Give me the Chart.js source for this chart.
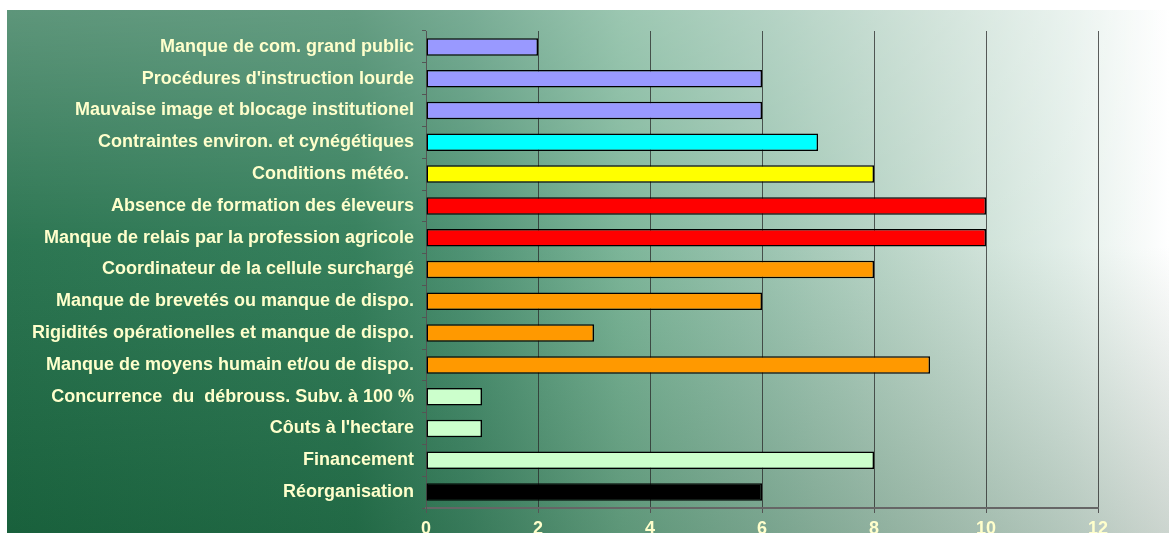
<!DOCTYPE html>
<html>
<head>
<meta charset="utf-8">
<script src="https://cdn.jsdelivr.net/npm/chart.js@4"></script>
<style>
  html, body { margin: 0; padding: 0; background: #fff; }
  #wrap {
    position: absolute; left: 7px; top: 10px; width: 1162px; height: 523px;
    background:
      linear-gradient(to bottom, rgba(255,255,255,0.28) 0%, rgba(255,255,255,0.06) 45%, rgba(0,45,15,0.2) 100%),
      linear-gradient(to right, #1f6d47 0%, #2a7853 30%, #468d6d 40%, #75b193 53%, #98c2ae 66%, #bcd6c9 78%, #e0ede7 91%, #ffffff 100%);
  }
  canvas { display: block; }
</style>
</head>
<body>
<div id="wrap"><canvas id="chart" width="1162" height="523"></canvas></div>
<script>
const categories = [
  "Manque de com. grand public",
  "Procédures d'instruction lourde",
  "Mauvaise image et blocage institutionel",
  "Contraintes environ. et cynégétiques",
  "Conditions météo. ",
  "Absence de formation des éleveurs",
  "Manque de relais par la profession agricole",
  "Coordinateur de la cellule surchargé",
  "Manque de brevetés ou manque de dispo.",
  "Rigidités opérationelles et manque de dispo.",
  "Manque de moyens humain et/ou de dispo.",
  "Concurrence  du  débrouss. Subv. à 100 %",
  "Côuts à l'hectare",
  "Financement",
  "Réorganisation"
];
const values = [2, 6, 6, 7, 8, 10, 10, 8, 6, 3, 9, 1, 1, 8, 6];
const barColors = [
  "#9999ff", "#9999ff", "#9999ff", "#00ffff", "#ffff00", "#ff0000", "#ff0000",
  "#ff9900", "#ff9900", "#ff9900", "#ff9900", "#ccffcc", "#ccffcc", "#ccffcc", "#000000"
];
const xTicks = [0, 2, 4, 6, 8, 10, 12];

const textColor = "#ffffcc";

new Chart(document.getElementById("chart"), {
  type: "bar",
  data: {
    labels: categories,
    datasets: [{
      data: values,
      backgroundColor: barColors,
      borderColor: "#000",
      borderWidth: 1.5,
      borderSkipped: false,
      barPercentage: 0.55,
      categoryPercentage: 1
    }]
  },
  options: {
    indexAxis: "y",
    responsive: false,
    animation: false,
    layout: { padding: { top: 21, right: 71, left: 0, bottom: 0 } },
    plugins: { legend: { display: false }, tooltip: { enabled: false } },
    scales: {
      x: {
        min: 0, max: 12,
        afterBuildTicks: (axis) => { axis.ticks = xTicks.map(v => ({ value: v })); },
        afterFit: (axis) => { axis.height = 25; },
        grid: { color: "rgba(40,40,40,0.75)", lineWidth: 1, tickLength: 5, tickColor: "#555" },
        border: { color: "#666", width: 2 },
        ticks: { color: textColor, padding: 5, font: { family: "Liberation Sans", size: 18, weight: "bold" } }
      },
      y: {
        afterFit: (axis) => { axis.width = 419; },
        grid: { drawOnChartArea: false, drawTicks: true, tickLength: 4, color: "#555" },
        border: { color: "#555", width: 1 },
        ticks: { color: textColor, padding: 8, autoSkip: false, font: { family: "Liberation Sans", size: 18, weight: "bold" } }
      }
    }
  }
});
</script>
</body>
</html>
